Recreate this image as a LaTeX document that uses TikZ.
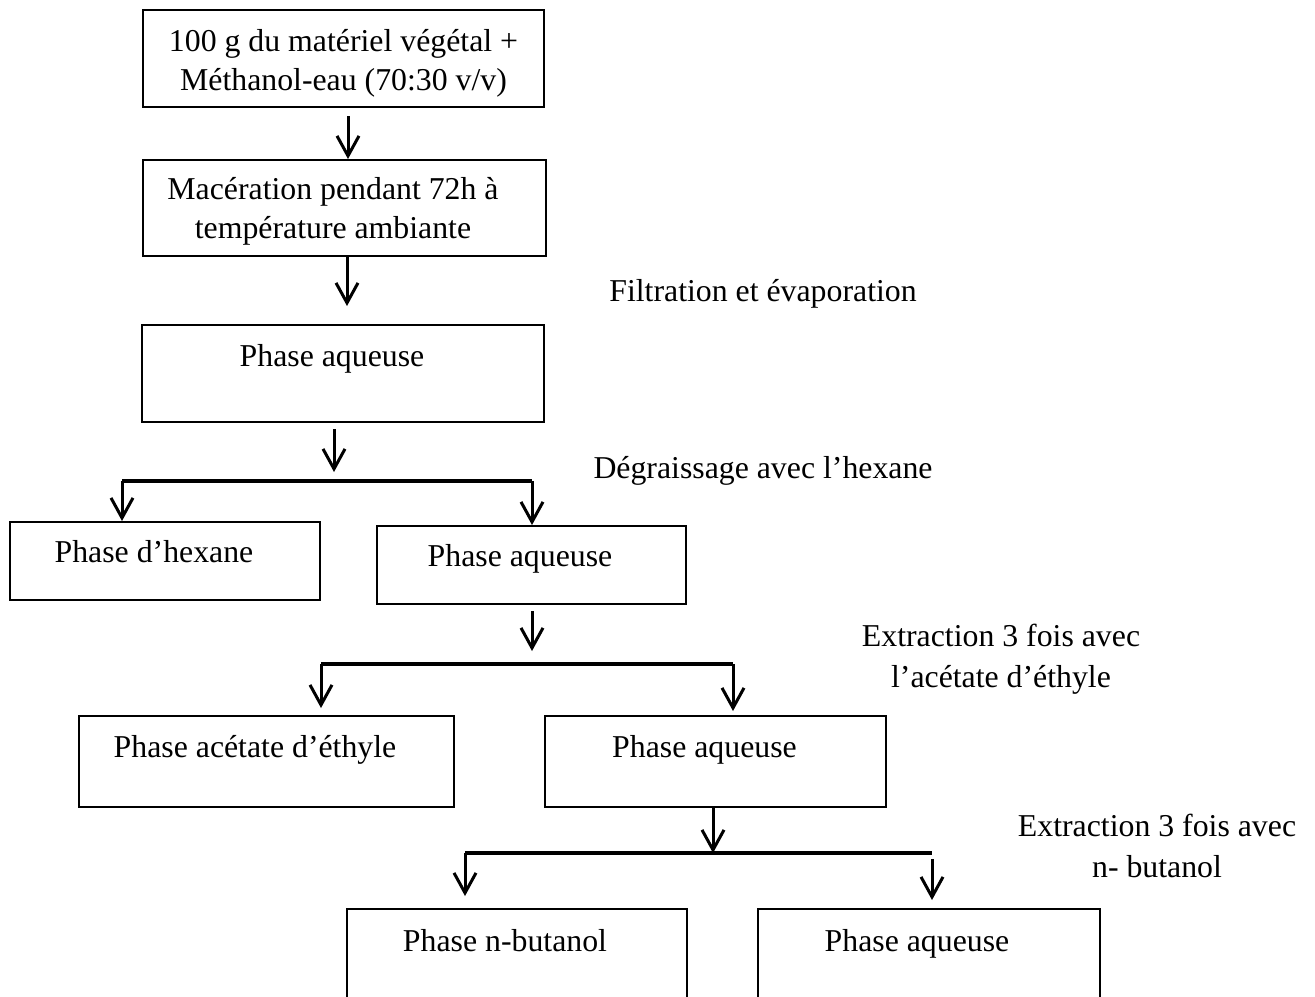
\documentclass[tikz,border=0pt]{standalone}
\usepackage{fontspec}
\setmainfont{Liberation Serif}
\usetikzlibrary{calc,arrows.meta}

\begin{document}
\begin{tikzpicture}[x=0.5pt,y=-0.5pt,
box/.style={draw,line width=1pt,inner sep=0pt},
txt/.style={font=\fontsize{15.9}{19.5}\selectfont,align=center,inner sep=0pt},
lbl/.style={font=\fontsize{15.9}{20.5}\selectfont,align=center,inner sep=0pt},
arr/.style={-{Straight Barb[length=10pt,width=11pt]},line width=1.5pt},
branch/.style={line width=2pt}]
\clip (0,0) rectangle (1315,996);
\node[box,minimum width=200.5pt,minimum height=48.5pt] (melange) at (343.5,58.5) {};
\node[box,minimum width=201.5pt,minimum height=48pt] (macer) at (344.5,208) {};
\node[box,minimum width=201pt,minimum height=48.5pt] (aq1) at (342.5,373.5) {};
\node[box,minimum width=155pt,minimum height=39pt] (hex) at (165,561) {};
\node[box,minimum width=154.5pt,minimum height=39pt] (aq2) at (531.5,565) {};
\node[box,minimum width=187.5pt,minimum height=45.5pt] (acet) at (266.5,761.5) {};
\node[box,minimum width=170.5pt,minimum height=45.5pt] (aq3) at (715.5,761.5) {};
\node[box,minimum width=170pt,minimum height=50.5pt] (but) at (517,959.5) {};
\node[box,minimum width=171pt,minimum height=50.5pt] (aq4) at (929,959.5) {};
\node[txt] (tmelange) at (343.5,63.5) {100 g du matériel végétal +\\Méthanol-eau (70:30 v/v)};
\node[txt] (tmacer) at (333,211) {Macération pendant 72h à\\température ambiante};
\node[txt,anchor=base] (taq1) at (332,366) {Phase aqueuse};
\node[txt,anchor=base] (thex) at (154,562) {Phase d’hexane};
\node[txt,anchor=base] (taq2) at (520,566) {Phase aqueuse};
\node[txt,anchor=base] (tacet) at (255,757) {Phase acétate d’éthyle};
\node[txt,anchor=base] (taq3) at (704.5,757) {Phase aqueuse};
\node[txt,anchor=base] (tbut) at (505,951) {Phase n-butanol};
\node[txt,anchor=base] (taq4) at (917,951) {Phase aqueuse};
\node[txt,anchor=base] (filt) at (763,301) {Filtration et évaporation};
\node[txt,anchor=base] (degr) at (763,478) {Dégraissage avec l’hexane};
\node[lbl] (extr1) at (1001,659) {Extraction 3 fois avec\\l’acétate d’éthyle};
\node[lbl] (extr2) at (1157,845.5) {Extraction 3 fois avec\\n- butanol};
\coordinate (b1) at (334,481);
\coordinate (b1l) at (122,481);
\coordinate (b1r) at (532,481);
\coordinate (b2) at (532,664);
\coordinate (b2l) at (321,664);
\coordinate (b2r) at (733,664);
\coordinate (b3) at (713,853);
\coordinate (b3l) at (465,853);
\coordinate (b3r) at (932,853);
\draw[arr,shorten <=4pt] ([xshift=2.25pt]melange.south) -- ([xshift=2.25pt]melange.south |- macer.north);
\draw[arr,shorten >=9pt] ([xshift=1.25pt]macer.south) -- ([xshift=1.25pt]macer.south |- aq1.north);
\draw[arr,shorten <=3pt,shorten >=4.5pt] (aq1.south -| b1) -- (b1);
\draw[branch] (b1l) -- (b1r);
\draw[arr] (b1l) -- (b1l |- hex.north);
\draw[arr] (b1r) -- (b1r |- aq2.north);
\draw[arr,shorten <=3pt,shorten >=6.5pt] (aq2.south -| b2) -- (b2);
\draw[branch] (b2l) -- (b2r);
\draw[arr,shorten >=3.5pt] (b2l) -- (b2l |- acet.north);
\draw[arr,shorten >=2pt] (b2r) -- (b2r |- aq3.north);
\draw[arr] (aq3.south -| b3) -- (b3);
\draw[branch] (b3l) -- (b3r);
\draw[arr,shorten >=6pt] (b3l) -- (b3l |- but.north);
\draw[arr,shorten <=3pt,shorten >=4pt] (b3r) -- (b3r |- aq4.north);
\end{tikzpicture}
\end{document}
